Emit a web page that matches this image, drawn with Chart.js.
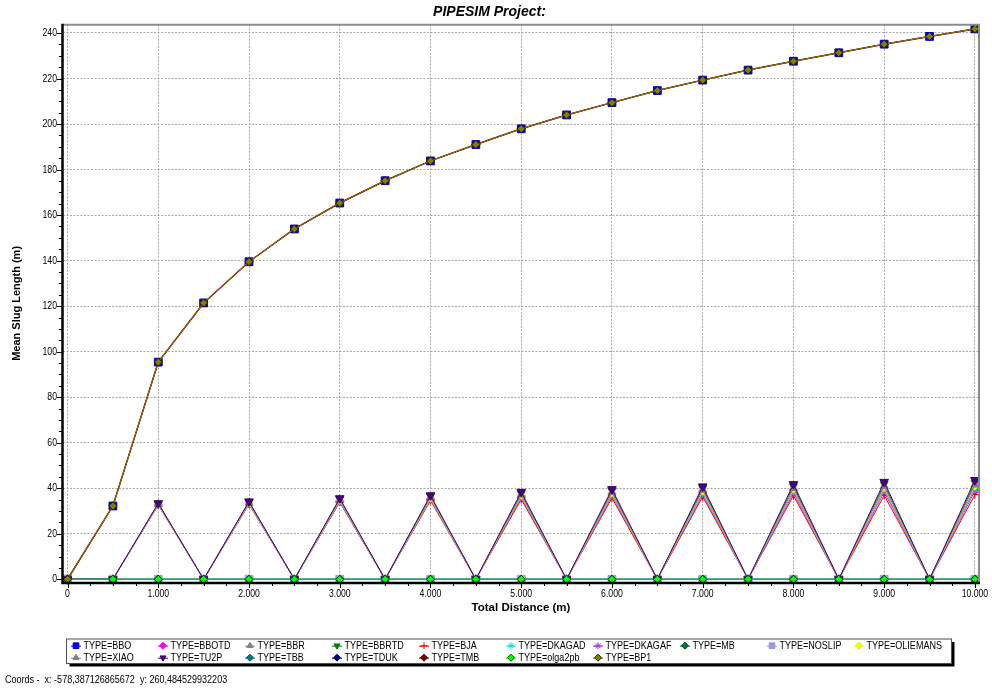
<!DOCTYPE html>
<html>
<head>
<meta charset="utf-8">
<title>PIPESIM Project: Mean Slug Length</title>
<script src="https://cdn.jsdelivr.net/npm/chart.js@4.4.1/dist/chart.umd.min.js"></script>
<style>
  html, body { margin: 0; padding: 0; background: #fff; }
  canvas { display: block; }
</style>
</head>
<body>
<canvas id="chart" width="992" height="688"></canvas>
<script>
// ---- data -------------------------------------------------------------
const distances = [0, 500, 1000, 1500, 2000, 2500, 3000, 3500, 4000, 4500, 5000,
                   5500, 6000, 6500, 7000, 7500, 8000, 8500, 9000, 9500, 10000];

const xTicks = [0, 1000, 2000, 3000, 4000, 5000, 6000, 7000, 8000, 9000, 10000];
const yTicks = [0, 20, 40, 60, 80, 100, 120, 140, 160, 180, 200, 220, 240];

// continuously growing slugs
const bbo = [0, 32.2, 95.4, 121.4, 139.5, 153.9, 165.3, 175.1, 183.8, 191.0, 197.9,
             204.0, 209.4, 214.7, 219.3, 223.7, 227.6, 231.3, 235.1, 238.5, 241.8];
const tmb = [0, 32.2, 95.4, 121.4, 139.5, 153.9, 165.3, 175.1, 183.8, 191.0, 197.9,
             204.0, 209.4, 214.7, 219.3, 223.7, 227.6, 231.3, 235.1, 238.5, 241.8];
const bp1 = [0, 32.2, 95.4, 121.4, 139.5, 153.9, 165.3, 175.1, 183.8, 191.0, 197.9,
             204.0, 209.4, 214.7, 219.3, 223.7, 227.6, 231.3, 235.1, 238.5, 241.8];

// alternating slug / no-slug sections
const bbotd    = [0, 0, 32.7, 0, 33.1, 0, 34.0, 0, 34.9, 0, 35.8, 0, 36.6, 0, 37.3, 0, 37.9, 0, 38.4, 0, 38.8];
const bbr      = [0, 0, 33.0, 0, 33.6, 0, 34.7, 0, 35.8, 0, 37.0, 0, 38.0, 0, 39.0, 0, 39.8, 0, 40.6, 0, 41.2];
const bbrtd    = [0, 0, 33.2, 0, 33.9, 0, 35.2, 0, 36.4, 0, 37.8, 0, 38.9, 0, 40.0, 0, 40.9, 0, 41.8, 0, 42.5];
const bja      = [0, 0, 32.6, 0, 33.0, 0, 33.9, 0, 34.6, 0, 35.1, 0, 35.7, 0, 36.3, 0, 36.8, 0, 36.9, 0, 37.2];
const dkagad   = [0, 0, 32.8, 0, 33.3, 0, 34.3, 0, 35.2, 0, 36.2, 0, 37.1, 0, 37.9, 0, 38.6, 0, 39.2, 0, 39.7];
const dkagaf   = [0, 0, 32.9, 0, 33.4, 0, 34.4, 0, 35.4, 0, 36.5, 0, 37.5, 0, 38.4, 0, 39.1, 0, 39.8, 0, 40.4];
const oliemans = [0, 0, 32.9, 0, 33.5, 0, 34.6, 0, 35.6, 0, 36.8, 0, 37.8, 0, 38.7, 0, 39.5, 0, 40.2, 0, 40.9];
const xiao     = [0, 0, 33.0, 0, 33.6, 0, 34.8, 0, 35.9, 0, 37.1, 0, 38.2, 0, 39.2, 0, 40.0, 0, 40.8, 0, 41.5];
const tu2p     = [0, 0, 33.4, 0, 34.2, 0, 35.6, 0, 36.9, 0, 38.4, 0, 39.6, 0, 40.8, 0, 41.8, 0, 42.8, 0, 43.6];

// no slugging predicted
const mb      = [0, 0, 0, 0, 0, 0, 0, 0, 0, 0, 0, 0, 0, 0, 0, 0, 0, 0, 0, 0, 0];
const noslip  = [0, 0, 0, 0, 0, 0, 0, 0, 0, 0, 0, 0, 0, 0, 0, 0, 0, 0, 0, 0, 0];
const tbb     = [0, 0, 0, 0, 0, 0, 0, 0, 0, 0, 0, 0, 0, 0, 0, 0, 0, 0, 0, 0, 0];
const tduk    = [0, 0, 0, 0, 0, 0, 0, 0, 0, 0, 0, 0, 0, 0, 0, 0, 0, 0, 0, 0, 0];
const olga2pb = [0, 0, 0, 0, 0, 0, 0, 0, 0, 0, 0, 0, 0, 0, 0, 0, 0, 0, 0, 0, 0];

const seriesNames = ['TYPE=BBO', 'TYPE=BBOTD', 'TYPE=BBR', 'TYPE=BBRTD', 'TYPE=BJA',
                     'TYPE=DKAGAD', 'TYPE=DKAGAF', 'TYPE=MB', 'TYPE=NOSLIP', 'TYPE=OLIEMANS',
                     'TYPE=XIAO', 'TYPE=TU2P', 'TYPE=TBB', 'TYPE=TDUK', 'TYPE=TMB',
                     'TYPE=olga2pb', 'TYPE=BP1'];
const seriesValues = [bbo, bbotd, bbr, bbrtd, bja, dkagad, dkagaf, mb, noslip, oliemans,
                      xiao, tu2p, tbb, tduk, tmb, olga2pb, bp1];

// ---- styles ------------------------------------------------------------
const FONT = "'Liberation Sans', Arial, sans-serif";
const NARROW = 0.82;     // horizontal squeeze for the small UI text
const seriesStyles = [
  { color: '#0000ff', point: 'rect',    rot: 0,   r: 5.5, edge: '#0000c0', line: 1 },
  { color: '#ff00ff', point: 'rectRot', rot: 0,   r: 4,   edge: '#ff00ff', line: 1 },
  { color: '#808080', point: 'triangle',rot: 0,   r: 4.5, edge: '#808080', line: 1 },
  { color: '#008000', point: 'triangle',rot: 180, r: 4.5, edge: '#008000', line: 1 },
  { color: '#ff0000', point: 'cross',   rot: 0,   r: 4,   edge: '#ff0000', line: 1 },
  { color: '#00ffff', point: 'star',    rot: 0,   r: 4,   edge: '#00e0e0', line: 1 },
  { color: '#9933ff', point: 'star',    rot: 0,   r: 4,   edge: '#9933ff', line: 1 },
  { color: '#007a3d', point: 'rectRot', rot: 0,   r: 4,   edge: '#004020', line: 1 },
  { color: '#9a9ad8', point: 'rect',    rot: 0,   r: 5.5, edge: '#9a9ad8', line: 1 },
  { color: '#ffff00', point: 'rectRot', rot: 0,   r: 4,   edge: '#e0e000', line: 1 },
  { color: '#808080', point: 'triangle',rot: 0,   r: 4.5, edge: '#808080', line: 1 },
  { color: '#4b0082', point: 'triangle',rot: 180, r: 5,   edge: '#3a0066', line: 1 },
  { color: '#008080', point: 'rectRot', rot: 0,   r: 4,   edge: '#005050', line: 1 },
  { color: '#000080', point: 'rectRot', rot: 0,   r: 4,   edge: '#000050', line: 1 },
  { color: '#800000', point: 'rectRot', rot: 0,   r: 4,   edge: '#500000', line: 1.5 },
  { color: '#00ff00', point: 'rectRot', rot: 0,   r: 4,   edge: '#005000', line: 1 },
  { color: '#808000', point: 'rectRot', rot: 0,   r: 4,   edge: '#202000', line: 1 }
];

const datasets = seriesNames.map((name, i) => {
  const s = seriesStyles[i];
  return {
    label: name,
    data: distances.map((d, k) => ({ x: d, y: seriesValues[i][k] })),
    borderColor: s.color,
    backgroundColor: s.color,
    borderWidth: s.line,
    pointStyle: s.point,
    pointRotation: s.rot,
    pointRadius: s.r,
    pointBackgroundColor: s.color,
    pointBorderColor: s.edge,
    pointBorderWidth: (s.point === 'cross' || s.point === 'star') ? 1.2 : 1,
    pointHoverRadius: s.r,
    tension: 0,
    clip: false,
    order: -i            // later series are painted on top
  };
});

function thousands(v) {
  if (v < 1000) return String(v);
  return Math.floor(v / 1000) + '.' + String(v % 1000).padStart(3, '0');
}

// text squeezed horizontally, like the narrow system font of the original tool
function narrowText(ctx, text, x, y, k) {
  const w = ctx.measureText(text).width;
  ctx.fillText(text, x, y, w * k);
}

// ---- frame, ticks, legend and coordinate readout ----------------------
const decorations = {
  id: 'decorations',
  afterDraw(chart) {
    const ctx = chart.ctx;
    const a = chart.chartArea;
    const xs = chart.scales.x, ys = chart.scales.y;
    ctx.save();

    // tick marks (major + minor)
    ctx.strokeStyle = '#000';
    ctx.lineWidth = 1;
    ctx.beginPath();
    for (let v = 0; v <= 10000; v += 250) {
      const px = Math.round(xs.getPixelForValue(v)) + 0.5;
      const len = (v % 1000 === 0) ? 5 : 3;
      ctx.moveTo(px, a.bottom + 1);
      ctx.lineTo(px, a.bottom + 1 + len);
    }
    for (let v = 0; v <= 240; v += 5) {
      const py = Math.round(ys.getPixelForValue(v)) + 0.5;
      const len = (v % 20 === 0) ? 5 : 3;
      ctx.moveTo(a.left - 1, py);
      ctx.lineTo(a.left - 1 - len, py);
    }
    ctx.stroke();

    // tick labels from the scales' own ticks
    ctx.fillStyle = '#000';
    ctx.font = '11px ' + FONT;
    ctx.textBaseline = 'middle';
    ctx.textAlign = 'center';
    xs.ticks.forEach(t => {
      narrowText(ctx, thousands(t.value), xs.getPixelForValue(t.value), a.bottom + 11.5, 0.79);
    });
    ctx.textAlign = 'right';
    ys.ticks.forEach(t => {
      narrowText(ctx, String(t.value), a.left - 6, ys.getPixelForValue(t.value), 0.79);
    });

    // frame
    ctx.strokeStyle = '#8c8c8c';
    ctx.lineWidth = 2;
    ctx.beginPath();
    ctx.moveTo(a.left, a.top);
    ctx.lineTo(a.right, a.top);
    ctx.lineTo(a.right, a.bottom);
    ctx.stroke();
    ctx.strokeStyle = '#000';
    ctx.lineWidth = 2.5;
    ctx.beginPath();
    ctx.moveTo(a.left - 0.5, a.top - 1);
    ctx.lineTo(a.left - 0.5, a.bottom + 1);
    ctx.lineTo(a.right + 1, a.bottom + 1);
    ctx.stroke();

    // legend box with drop shadow
    const box = { x: 66.5, y: 639, w: 885, h: 24.5 };
    ctx.fillStyle = '#000';
    ctx.fillRect(box.x + 3, box.y + 3, box.w, box.h);
    ctx.fillStyle = '#fff';
    ctx.fillRect(box.x, box.y, box.w, box.h);
    ctx.strokeStyle = '#505050';
    ctx.lineWidth = 1;
    ctx.strokeRect(box.x, box.y, box.w, box.h);

    ctx.font = '11px ' + FONT;
    ctx.textBaseline = 'middle';
    ctx.textAlign = 'left';
    chart.data.datasets.forEach((ds, i) => {
      const s = seriesStyles[i];
      const col = i % 10, row = Math.floor(i / 10);
      const cx = 76 + col * 87;
      const cy = 645.7 + row * 12;
      ctx.strokeStyle = s.color;
      ctx.lineWidth = 1;
      ctx.beginPath();
      ctx.moveTo(cx - 5, cy + 0.5);
      ctx.lineTo(cx + 5, cy + 0.5);
      ctx.stroke();
      ctx.fillStyle = s.color;
      ctx.strokeStyle = s.edge;
      if (Chart.helpers && Chart.helpers.drawPoint) {
        Chart.helpers.drawPoint(ctx, {
          pointStyle: s.point, rotation: s.rot,
          radius: s.point === 'rect' ? 4 : 3.5, borderWidth: 1
        }, cx, cy);
      } else {
        ctx.fillRect(cx - 3, cy - 3, 6, 6);
      }
      ctx.fillStyle = '#000';
      narrowText(ctx, ds.label, cx + 7.5, cy, NARROW);
    });

    // cursor coordinate readout
    ctx.fillStyle = '#000';
    ctx.font = '11px ' + FONT;
    narrowText(ctx, 'Coords -  x: -578,387126865672  y: 260,484529932203', 5, 679.5, NARROW);
    ctx.restore();
  }
};

new Chart(document.getElementById('chart'), {
  type: 'line',
  data: { datasets },
  plugins: [decorations],
  options: {
    responsive: false,
    animation: false,
    layout: { padding: { left: 0, right: 13, top: 0, bottom: 74 } },
    plugins: {
      legend: { display: false },
      tooltip: { enabled: false },
      title: {
        display: true,
        text: 'PIPESIM Project:',
        color: '#000',
        font: { family: FONT, size: 14, weight: 'bold', style: 'italic' },
        padding: { top: 4, bottom: 4 }
      }
    },
    scales: {
      x: {
        type: 'linear',
        min: -50,
        max: 10045,
        afterBuildTicks: s => { s.ticks = xTicks.map(v => ({ value: v })); },
        afterFit: s => { s.height = 32; s.paddingLeft = 0; s.paddingRight = 0; },
        ticks: { display: false },
        grid: { color: '#a8a8a8', lineWidth: 1, drawTicks: false },
        border: { display: false, dash: [2, 1.5] },
        title: {
          display: true, text: 'Total Distance (m)', color: '#000',
          font: { family: FONT, size: 11.5, weight: 'bold', lineHeight: 1 },
          padding: 0
        }
      },
      y: {
        type: 'linear',
        min: -1.2,
        max: 243.6,
        afterBuildTicks: s => { s.ticks = yTicks.map(v => ({ value: v })); },
        afterFit: s => { s.width = 63; s.paddingTop = 0; s.paddingBottom = 0; },
        ticks: { display: false },
        grid: { color: '#a8a8a8', lineWidth: 1, drawTicks: false },
        border: { display: false, dash: [2, 1.5] },
        title: {
          display: true, text: 'Mean Slug Length (m)', color: '#000',
          font: { family: FONT, size: 11, weight: 'bold' },
          padding: { top: 10, bottom: 0 }
        }
      }
    }
  }
});
</script>
</body>
</html>
